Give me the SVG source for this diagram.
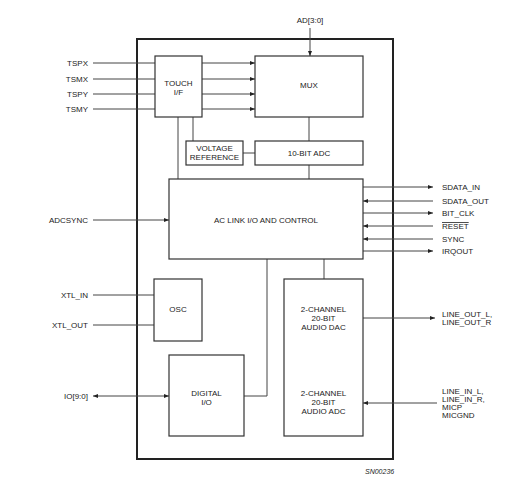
<svg xmlns="http://www.w3.org/2000/svg" width="526" height="486" viewBox="0 0 526 486">
<defs>
<style>
text{font-family:"Liberation Sans",Arial,sans-serif;font-size:8px;fill:#222}
.m{text-anchor:middle}
.e{text-anchor:end}
.box{fill:#fff;stroke:#333;stroke-width:1.2}
.ln{fill:none;stroke:#444;stroke-width:1}
</style>
<marker id="ah" viewBox="0 0 10 10" refX="10" refY="5" markerWidth="5" markerHeight="5" orient="auto-start-reverse"><path d="M0,1 L10,5 L0,9 z" fill="#222"/></marker>
</defs>
<rect x="0" y="0" width="526" height="486" fill="#fff"/>
<g id="chip"><rect x="137" y="39" width="256" height="420" fill="none" stroke="#222" stroke-width="2"/></g>
<g id="connectors">
<line class="ln" x1="93" y1="63" x2="155" y2="63"/>
<line class="ln" x1="93" y1="79" x2="155" y2="79"/>
<line class="ln" x1="93" y1="94" x2="155" y2="94"/>
<line class="ln" x1="93" y1="109" x2="155" y2="109"/>
<line class="ln" x1="202" y1="63" x2="255" y2="63" marker-end="url(#ah)"/>
<line class="ln" x1="202" y1="79" x2="255" y2="79" marker-end="url(#ah)"/>
<line class="ln" x1="202" y1="94" x2="255" y2="94" marker-end="url(#ah)"/>
<line class="ln" x1="202" y1="109" x2="255" y2="109" marker-end="url(#ah)"/>
<line class="ln" x1="310" y1="28" x2="310" y2="56" marker-end="url(#ah)"/>
<line class="ln" x1="178" y1="117" x2="178" y2="179"/>
<line class="ln" x1="193" y1="117" x2="193" y2="141"/>
<line class="ln" x1="243" y1="153" x2="255" y2="153"/>
<line class="ln" x1="309" y1="117" x2="309" y2="141"/>
<line class="ln" x1="309" y1="165" x2="309" y2="179"/>
<line class="ln" x1="93" y1="220" x2="169" y2="220" marker-end="url(#ah)"/>
<line class="ln" x1="363" y1="187" x2="433" y2="187" marker-end="url(#ah)"/>
<line class="ln" x1="433" y1="201" x2="363" y2="201" marker-end="url(#ah)"/>
<line class="ln" x1="363" y1="213" x2="433" y2="213" marker-end="url(#ah)"/>
<line class="ln" x1="433" y1="226" x2="363" y2="226" marker-end="url(#ah)"/>
<line class="ln" x1="433" y1="239" x2="363" y2="239" marker-end="url(#ah)"/>
<line class="ln" x1="363" y1="251" x2="433" y2="251" marker-end="url(#ah)"/>
<polyline class="ln" points="267,259 267,396 244,396"/>
<line class="ln" x1="324" y1="259" x2="324" y2="279"/>
<line class="ln" x1="93" y1="295" x2="154" y2="295"/>
<line class="ln" x1="93" y1="325" x2="154" y2="325"/>
<line class="ln" x1="93" y1="396" x2="169" y2="396" marker-start="url(#ah)" marker-end="url(#ah)"/>
<line class="ln" x1="363" y1="318" x2="435" y2="318" marker-end="url(#ah)"/>
<line class="ln" x1="437" y1="403" x2="363" y2="403" marker-end="url(#ah)"/>
</g>
<g id="touch"><rect class="box" x="155" y="56" width="47" height="61"/><text class="m" x="178.5" y="86">TOUCH</text><text class="m" x="178.5" y="95">I/F</text></g>
<g id="mux"><rect class="box" x="255" y="56" width="108" height="61"/><text class="m" x="309" y="88">MUX</text></g>
<g id="vref"><rect class="box" x="186" y="141" width="57" height="24"/><text class="m" x="214.5" y="151">VOLTAGE</text><text class="m" x="214.5" y="160">REFERENCE</text></g>
<g id="adc10"><rect class="box" x="255" y="141" width="108" height="24"/><text class="m" x="309" y="156">10-BIT ADC</text></g>
<g id="aclink"><rect class="box" x="169" y="179" width="194" height="80"/><text class="m" x="266" y="223">AC LINK I/O AND CONTROL</text></g>
<g id="osc"><rect class="box" x="154" y="279" width="48" height="62"/><text class="m" x="178" y="312">OSC</text></g>
<g id="digio"><rect class="box" x="169" y="355" width="75" height="81"/><text class="m" x="206.5" y="396">DIGITAL</text><text class="m" x="206.5" y="405">I/O</text></g>
<g id="audio"><rect class="box" x="284" y="279" width="79" height="157"/>
<text class="m" x="323.5" y="312">2-CHANNEL</text><text class="m" x="323.5" y="321">20-BIT</text><text class="m" x="323.5" y="330">AUDIO DAC</text>
<text class="m" x="323.5" y="396">2-CHANNEL</text><text class="m" x="323.5" y="405">20-BIT</text><text class="m" x="323.5" y="414">AUDIO ADC</text></g>
<g id="labels">
<text class="m" x="310" y="23">AD[3:0]</text>
<text class="e" x="88" y="66">TSPX</text>
<text class="e" x="88" y="82">TSMX</text>
<text class="e" x="88" y="97">TSPY</text>
<text class="e" x="88" y="112">TSMY</text>
<text class="e" x="88" y="223">ADCSYNC</text>
<text class="e" x="88" y="298">XTL_IN</text>
<text class="e" x="88" y="328">XTL_OUT</text>
<text class="e" x="88" y="399">IO[9:0]</text>
<text x="442" y="190">SDATA_IN</text>
<text x="442" y="204">SDATA_OUT</text>
<text x="442" y="216">BIT_CLK</text>
<text x="442" y="229" text-decoration="overline">RESET</text>
<text x="442" y="242">SYNC</text>
<text x="442" y="254">IRQOUT</text>
<text x="442" y="317">LINE_OUT_L,</text>
<text x="442" y="325">LINE_OUT_R</text>
<text x="442" y="394">LINE_IN_L,</text>
<text x="442" y="402">LINE_IN_R,</text>
<text x="442" y="410">MICP</text>
<text x="442" y="418">MICGND</text>
<text x="365" y="474" font-style="italic" style="font-size:7px">SN00236</text>
</g>
</svg>
